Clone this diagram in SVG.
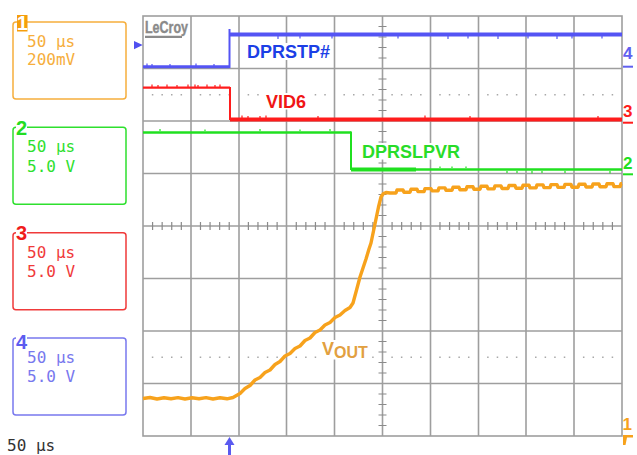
<svg xmlns="http://www.w3.org/2000/svg" width="637" height="455" viewBox="0 0 637 455">
<style>
.mono{font-family:"DejaVu Sans Mono","Liberation Mono",monospace;font-size:16px}
.dig{font-family:"Liberation Sans",Arial,sans-serif;font-weight:bold;font-size:20px}
.rdig{font-family:"Liberation Sans",Arial,sans-serif;font-weight:bold;font-size:17px}
.lbl{font-family:"Liberation Sans",Arial,sans-serif;font-weight:bold;font-size:18px}
.grid{stroke:#9e9e9e;stroke-width:1.6;fill:none}
.box{fill:none;stroke-width:1.5}
.tr{fill:none;stroke-linejoin:round;stroke-linecap:butt}
</style>
<rect width="637" height="455" fill="#fff"/>

<g id="panel1">
  <rect class="box" x="13" y="22" width="113" height="77" rx="3" stroke="#f6ae3c"/>
  <rect x="17" y="15" width="10.5" height="16.5" fill="#f59e0b"/>
  <text x="22.3" y="30" text-anchor="middle" class="dig" font-size="18" fill="#fff">1</text>
  <text x="27" y="47" class="mono" fill="#f6ae3c">50 μs</text>
  <text x="27" y="65" class="mono" fill="#f6ae3c">200mV</text>
</g>
<g id="panel2">
  <rect class="box" x="13" y="127.3" width="113" height="77" rx="3" stroke="#2ee02e"/>
  <rect x="16" y="124" width="11" height="7" fill="#fff"/>
  <text x="16" y="135" class="dig" font-size="21" fill="#22dd22">2</text>
  <text x="27" y="152.3" class="mono" fill="#2ee02e">50 μs</text>
  <text x="27" y="171.5" class="mono" fill="#2ee02e">5.0 V</text>
</g>
<g id="panel3">
  <rect class="box" x="13" y="232.7" width="113" height="77" rx="3" stroke="#f03a3a"/>
  <rect x="16" y="229" width="11" height="7" fill="#fff"/>
  <text x="16" y="240" class="dig" font-size="21" fill="#f01c1c">3</text>
  <text x="27" y="257.7" class="mono" fill="#f03a3a">50 μs</text>
  <text x="27" y="276.7" class="mono" fill="#f03a3a">5.0 V</text>
</g>
<g id="panel4">
  <rect class="box" x="13" y="338" width="113" height="77" rx="3" stroke="#7878ee"/>
  <rect x="16" y="335" width="11" height="6" fill="#fff"/>
  <text x="16" y="348.5" class="dig" font-size="19" fill="#5c5cf0">4</text>
  <text x="27" y="363" class="mono" fill="#7878ee">50 μs</text>
  <text x="27" y="382" class="mono" fill="#7878ee">5.0 V</text>
</g>
<text id="timebase" x="7" y="450.5" class="mono" fill="#333">50 μs</text>

<g id="grid">
  <rect x="143" y="16" width="479" height="420" class="grid" stroke-width="2"/>
  <path class="grid" d="M191,16V436M239,16V436M286.5,16V436M334.5,16V436M382.5,16V436M430.5,16V436M478.5,16V436M526,16V436M574,16V436
  M143,68.5H622M143,121H622M143,173.5H622M143,226H622M143,278.5H622M143,331H622M143,383.5H622"/>
  <path d="M151.98,226H622" stroke="#8a8a8a" stroke-width="8" stroke-dasharray="1.2 8.38 1.2 8.38 1.2 8.38 1.2 17.96" fill="none"/>
  <path d="M382.5,25.9V436" stroke="#8a8a8a" stroke-width="8" stroke-dasharray="1.2 9.3 1.2 9.3 1.2 9.3 1.2 19.8" fill="none"/>
  <path d="M151.83,94.75H622M151.83,357.25H622" stroke="#a8a8a8" stroke-width="1.5" stroke-dasharray="1.5 8.08 1.5 8.08 1.5 8.08 1.5 17.66" fill="none"/>
</g>

<g id="logo">
  <text x="145" y="32.5" font-family="'Liberation Sans Narrow','Liberation Sans',sans-serif" font-weight="bold" font-size="16" fill="#8a8a8a" stroke="#8a8a8a" stroke-width="0.4" textLength="43" lengthAdjust="spacingAndGlyphs">LeCroy</text>
  <path d="M145,36.8H182" stroke="#8a8a8a" stroke-width="2.2"/>
</g>

<g id="traces">
  <!-- channel 4 blue -->
  <path class="tr" stroke="#5454f4" stroke-width="3" d="M143,66.7H229.5"/>
  <path class="tr" stroke="#5454f4" stroke-width="2" d="M229.5,68V29"/>
  <path class="tr" stroke="#5454f4" stroke-width="4" d="M229.5,34.5H622"/>
  <path stroke="#5454f4" stroke-width="1.2" d="M147,66V63.5M152,66V64M170,66V64M196,66V63.5M214,66V64M278,36V39M300,36V38.5M332,36V38.5M398,36V38.5M448,36V39M468,36V38.5M498,36V39M528,36V38.5M557,36V39M572,36V38.5M602,36V38.5"/>
  <!-- channel 3 red -->
  <path class="tr" stroke="#ff1c1c" stroke-width="2.2" d="M143,87.7H230"/>
  <path class="tr" stroke="#ff1c1c" stroke-width="2" d="M230,87V120"/>
  <path class="tr" stroke="#ff1c1c" stroke-width="4" d="M230,119.5H622"/>
  <path stroke="#ff1c1c" stroke-width="1.2" d="M152,87V84.5M158,87V85M167,87V84.5M177,87V85M188,87V84.5M195,87V84.5M198,87V85M207,87V84.5M215,87V85M220,87V84.5M242,118V115.5M248,118V116M260,118V116M266,118V115.5M318,118V116M425,118V115.5M470,118V116M598,118V116"/>
  <!-- channel 2 green -->
  <path class="tr" stroke="#20e020" stroke-width="2.6" d="M143,132.5H351"/>
  <path class="tr" stroke="#20e020" stroke-width="2" d="M351,131.5V170"/>
  <path class="tr" stroke="#20e020" stroke-width="2.6" d="M351,169.5H622"/>
  <path class="tr" stroke="#20e020" stroke-width="4" d="M351,169.5H416"/>
  <path stroke="#20e020" stroke-width="1.2" d="M160,131V129M205,131V129.5M260,131V129M300,131V129.5M330,131V129M507,171V173M517,171V173M532,171V173.5M542,171V173M565,171V173M610,171V173.5M440,168V166.5M452,168V166.5M466,168V166.5"/>
  <!-- channel 1 orange VOUT -->
  <polyline class="tr" stroke="#f7a21c" stroke-width="3.4" points="143,398.5 150,397.5 157,399 164,397.8 171,398.8 178,397.6 185,399 192,397.8 199,398.8 206,397.6 213,399 220,397.8 227,398.8 233,397.5 240,393.5 245,388.5 250,385.5 255,380 260,377.5 265,372.5 270,370 275,364.5 280,361.5 285,356 290,353.5 295,348.5 300,346 305,340.5 310,338 315,332.5 320,330 325,325 330,322.5 335,317.5 340,315 345,310.5 350,307.5 353,303 356,292 360,277 363,268 366,259 369,249 371,243 373.5,231 376,219 378.5,207 381,197 383.5,193.5 386,192.5 390,193 396,193 397,190 403,190 404,192.3 410,192.3 411,189.3 417,189.3 418,191.6 424,191.6 425,188.6 431,188.6 432,190.9 438,190.9 439,187.9 445,187.9 446,190.3 452,190.3 453,187.3 459,187.3 460,189.8 466,189.8 467,186.8 473,186.8 474,189.3 480,189.3 481,186.3 487,186.3 488,188.9 494,188.9 495,185.9 501,185.9 502,188.5 508,188.5 509,185.5 515,185.5 516,188.2 522,188.2 523,185.2 529,185.2 530,187.9 536,187.9 537,184.9 543,184.9 544,187.6 550,187.6 551,184.6 557,184.6 558,187.4 564,187.4 565,184.4 571,184.4 572,187.2 578,187.2 579,184.2 585,184.2 586,187 592,187 593,184 599,184 600,186.8 606,186.8 607,183.8 613,183.8 614,186.6 620,186.6 621,183.6 622,183.6"/>
</g>

<g id="labels">
  <rect x="245" y="43" width="87" height="17" fill="#fff"/>
  <text x="247" y="57.5" class="lbl" fill="#1c3fe6">DPRSTP#</text>
  <rect x="265" y="93" width="42" height="16.5" fill="#fff"/>
  <text x="266" y="107.5" class="lbl" fill="#f01515">VID6</text>
  <rect x="360" y="143" width="102" height="16.5" fill="#fff"/>
  <text x="362" y="157.5" class="lbl" fill="#28dc28">DPRSLPVR</text>
  <rect x="321" y="340" width="49" height="19.5" fill="#fff"/>
  <text x="322" y="355" font-family="'Liberation Sans',Arial,sans-serif" font-weight="bold" font-size="18" fill="#e2a040">V<tspan font-size="16" dy="3.3">OUT</tspan></text>
</g>

<g id="markers">
  <polygon points="134,41 142.7,45 134,49.3" fill="#5050f0"/>
  <path d="M229.5,443V455" stroke="#5a5af0" stroke-width="3"/>
  <polygon points="224.5,445 234.5,445 229.5,437" fill="#5a5af0"/>
  <text x="623" y="59.3" class="rdig" fill="#6060f0">4</text>
  <path d="M623,66.7H633" stroke="#6060f0" stroke-width="2"/>
  <text x="623" y="116.7" class="rdig" fill="#ff1c1c">3</text>
  <path d="M623,122.7H633" stroke="#ff1c1c" stroke-width="2"/>
  <text x="623" y="169.3" class="rdig" fill="#20e020">2</text>
  <path d="M623,174.3H633" stroke="#20e020" stroke-width="2"/>
  <text x="622.5" y="430" class="rdig" fill="#f7a21c">1</text>
  <polygon points="623,435 633,435 633,437.5 627,437.5 625.5,445 623,445" fill="#f7a21c"/>
</g>
</svg>
